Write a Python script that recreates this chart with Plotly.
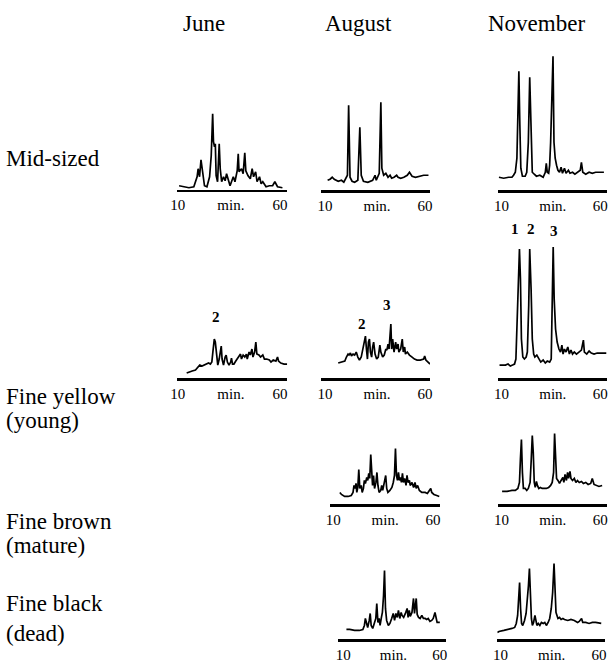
import plotly.graph_objects as go

# ---------------- data ----------------
months = ["June", "August", "November"]
row_labels = [["Mid-sized"], ["Fine yellow", "(young)"], ["Fine brown", "(mature)"], ["Fine black", "(dead)"]]
tick_vals = [10, 36, 60]
tick_text = ["10", "min.", "60"]

# retention time (min) and detector response (arbitrary units)
t_mid_june = [10.7,13.1,15.5,17.9,19.5,20.0,20.7,21.4,22.3,23.1,24.3,25.6,26.4,27.1,27.5,28.0,28.4,28.8,29.5,30.3,30.8,31.5,32.4,33.2,33.9,34.8,35.6,37.2,38.0,39.1,39.6,40.0,41.2,42.0,42.8,43.3,44.4,45.5,46.4,47.1,48.1,48.8,50.0,50.8,51.6,53.2,54.8,56.4,57.5,58.8,61.2]
i_mid_june = [4,3,2,3,13,21,13,30,14,4,3,13,34,76,48,43,46,14,8,46,21,8,13,9,16,9,4,13,8,19,36,18,21,16,37,19,14,11,21,13,18,8,13,6,8,3,4,4,8,3,2]

t_mid_aug = [11.3,12.5,13.6,14.6,16.6,18.2,19.4,20.3,21.2,21.8,22.5,23.5,24.8,26.4,27.4,28.1,29.2,31.4,33.8,35.0,35.6,37.1,37.9,38.4,39.3,40.4,41.5,42.5,43.3,44.5,45.8,46.5,47.8,49.4,51.1,52.2,53.5,55.2,56.8,59.3,61.7]
i_mid_aug = [10,11,13,11,9,10,8,12,15,85,13,9,8,10,63,15,9,8,10,15,10,17,88,22,15,17,13,15,12,13,15,13,12,13,15,18,14,13,14,15,15]

t_mid_nov = [8.7,11.1,13.6,15.3,16.1,17.0,17.8,18.5,18.8,19.3,19.8,20.6,22.0,22.8,23.6,24.3,25.0,25.6,26.6,27.7,29.4,31.1,32.2,32.7,33.2,33.9,34.4,34.9,35.6,36.1,36.6,37.2,37.9,38.6,39.4,40.2,40.9,41.9,42.7,43.9,44.7,46.0,47.2,48.5,49.9,50.5,51.2,52.7,54.4,56.0,57.7,59.4,61.9]
i_mid_nov = [13,12,13,13,15,18,32,82,119,65,22,14,14,18,48,113,48,18,16,14,15,13,18,27,18,17,25,48,98,134,48,32,25,20,18,23,17,22,17,20,17,18,16,18,20,28,18,16,18,17,18,18,18]

t_yel_june = [14.4,15.5,17.1,18.7,19.9,20.8,21.9,23.1,24.3,25.1,26.0,26.7,27.2,27.9,28.4,28.8,29.1,29.6,30.3,30.8,31.3,31.7,32.4,33.2,33.7,34.3,35.1,35.9,36.3,36.8,37.5,38.4,39.1,40.0,40.7,41.2,42.0,42.8,43.6,44.0,44.9,45.5,46.3,46.8,47.6,48.2,48.7,49.7,50.5,51.6,52.4,53.5,54.8,55.6,56.7,58.0,58.8,59.3,60.4,62.0,63.5]
i_yel_june = [5,6,7,8,11,13,12,13,14,15,14,16,26,39,36,28,18,13,19,29,32,19,13,21,23,16,13,16,20,14,14,17,19,21,24,19,23,21,24,19,26,23,29,21,26,36,24,23,21,23,19,19,18,16,18,17,21,17,15,14,14]

t_yel_aug = [16.6,18.2,19.9,20.7,21.5,22.0,22.7,23.2,24.0,24.8,25.6,26.4,27.2,28.1,28.9,29.7,30.2,30.7,31.2,31.7,32.2,32.7,33.3,33.8,34.3,35.0,35.8,36.6,37.4,37.9,38.8,39.6,40.4,40.9,41.5,42.0,42.9,43.3,43.8,44.5,45.3,45.8,46.5,46.9,47.8,48.6,49.1,49.8,50.2,51.1,52.2,53.5,54.7,56.0,57.6,59.3,59.8,60.4,61.4,62.5]
i_yel_aug = [15,16,17,21,24,23,25,22,24,23,26,21,18,21,29,36,42,29,19,36,39,26,21,31,36,24,19,21,33,26,21,23,29,28,34,29,54,29,39,26,36,29,34,26,29,39,26,31,24,26,23,21,19,18,18,19,22,18,16,14]

t_yel_nov = [9.0,10.3,12.0,13.3,14.5,15.6,16.6,17.3,18.0,18.6,19.1,19.6,20.1,20.8,21.6,22.5,23.1,23.8,24.3,25.0,25.6,26.3,26.9,27.9,28.9,29.9,31.1,32.2,33.2,34.4,35.2,35.7,36.2,36.7,37.4,38.2,39.1,39.9,40.6,41.2,41.9,42.7,43.6,44.4,45.2,46.0,46.9,48.0,49.4,50.5,51.5,52.0,53.2,54.4,55.5,56.9,58.5,61.0,63.1]
i_yel_nov = [13,13,13,14,12,13,14,19,56,106,129,99,39,21,19,21,26,73,129,89,39,24,21,23,19,16,18,15,17,16,19,73,131,79,49,36,29,26,33,24,29,26,31,24,28,24,26,24,26,28,38,26,24,27,25,24,25,25,25]

t_brn_aug = [13.3,14.1,15.7,17.4,19.0,19.9,20.4,20.9,21.4,21.8,22.3,22.8,23.3,24.0,24.5,25.1,25.6,26.1,26.8,27.3,27.8,28.3,28.8,29.3,29.7,30.2,30.7,31.4,31.9,32.4,33.0,33.8,34.3,34.8,35.8,36.3,36.8,37.4,38.4,39.4,40.1,40.7,41.2,41.7,42.2,42.7,43.2,43.7,44.2,44.7,45.2,45.8,46.5,47.0,47.5,48.2,48.6,49.5,50.3,51.0,51.6,52.3,53.2,54.4,56.1,57.2,58.2,58.9,59.4,60.5,61.9,63.2]
i_brn_aug = [12,10,8,8,9,12,19,16,21,12,17,35,16,19,12,16,24,21,27,24,31,26,50,26,19,29,16,22,32,19,12,14,19,14,22,29,16,12,14,17,22,29,56,29,24,32,24,27,22,31,22,26,19,29,22,24,19,22,17,22,16,19,14,12,12,11,14,16,12,10,9,8]

t_brn_nov = [10.3,12.8,15.3,17.0,18.3,19.1,19.6,20.1,20.6,21.1,22.0,22.8,23.6,24.5,25.1,25.6,26.1,26.6,27.1,27.7,28.2,28.9,29.7,30.6,31.6,32.7,33.9,34.9,35.7,36.4,36.9,37.4,37.9,38.6,39.4,40.2,41.1,41.6,42.2,42.9,43.5,44.0,44.7,45.2,46.0,46.9,47.7,48.5,49.4,50.5,51.5,52.7,53.9,55.2,56.0,56.9,58.2,59.4,61.0]
i_brn_nov = [13,13,14,14,16,22,46,65,32,16,16,14,16,22,46,69,52,22,17,23,19,16,17,16,16,16,17,19,22,32,71,36,26,24,21,24,27,22,30,24,32,26,33,26,24,26,22,24,22,23,21,22,20,21,26,20,19,18,19]

t_blk_aug = [11.7,13.4,15.9,18.4,20.2,21.0,21.5,22.0,22.7,23.5,24.0,24.5,25.3,26.1,26.9,27.4,28.0,28.6,29.1,29.8,30.3,30.9,31.4,31.9,32.5,33.4,34.2,35.1,35.9,36.6,37.3,38.0,38.6,39.3,40.0,40.5,41.3,42.2,43.1,43.6,44.2,44.7,45.6,46.4,46.9,47.8,48.3,49.0,49.8,50.7,51.5,52.4,53.2,54.0,54.9,55.8,56.6,57.5,58.0,58.6,60.0]
i_blk_aug = [10,10,9,9,10,14,21,16,12,19,26,14,11,16,21,36,17,21,14,22,27,44,69,31,19,14,16,21,26,19,26,22,29,21,27,24,22,26,31,22,29,23,27,41,26,41,25,22,21,24,21,21,20,21,18,19,21,27,22,17,17]

t_blk_nov = [8.4,9.2,11.7,14.2,15.8,17.2,18.0,18.7,19.2,19.7,20.2,20.7,21.3,22.2,23.0,23.7,24.2,24.7,25.2,25.7,26.2,26.8,27.5,28.0,28.5,29.2,30.0,30.8,31.7,32.5,33.3,34.2,35.0,35.8,36.5,37.2,37.7,38.2,38.7,39.2,40.0,40.8,41.7,42.5,44.2,45.8,47.5,49.2,50.0,51.2,51.8,53.3,55.0,56.7,58.3,60.0,61.2]
i_blk_nov = [7,8,9,10,11,12,16,24,41,57,31,16,14,19,26,41,54,71,41,21,14,17,24,19,14,16,14,17,16,17,14,17,21,31,47,76,41,27,24,21,22,20,21,20,19,20,19,17,18,21,17,17,16,17,17,16,16]

# peak identifiers: (panel index, label, time, response)
peak_labels = [(3, "2", 28.8, 61), (4, "2", 28.6, 54), (4, "3", 41.2, 73),
               (5, "1", 16.6, 149), (5, "2", 25.0, 149), (5, "3", 36.6, 147)]

# ---------------- layout (pixel geometry of each panel) ----------------
W, H = 613, 665
PH = 160  # panel height in px (1 response unit = 1 px)
# (t, i, line_left, line_right, line_y, px_of_10, px_of_60)
panels = [
    (t_mid_june, i_mid_june, 173.0, 285.0, 191.0, 173.5, 277.5),
    (t_mid_aug, i_mid_aug, 319.3, 430.0, 191.5, 323.3, 425.0),
    (t_mid_nov, i_mid_nov, 499.3, 610.0, 191.5, 502.7, 603.0),
    (t_yel_june, i_yel_june, 172.7, 285.0, 379.3, 173.5, 277.5),
    (t_yel_aug, i_yel_aug, 319.3, 430.0, 379.3, 323.3, 425.0),
    (t_yel_nov, i_yel_nov, 499.3, 610.0, 379.3, 502.7, 603.0),
    (t_brn_aug, i_brn_aug, 328.3, 440.0, 505.7, 331.7, 433.0),
    (t_brn_nov, i_brn_nov, 499.3, 610.0, 505.7, 502.7, 603.0),
    (t_blk_aug, i_blk_aug, 336.7, 446.7, 640.7, 341.7, 440.0),
    (t_blk_nov, i_blk_nov, 498.3, 608.3, 640.7, 501.7, 601.7),
]

SERIF = "Liberation Serif"
fig = go.Figure()
LW = 2.5
for n, (t, inten, left, right, ly, p10, p60) in enumerate(panels, start=1):
    xa = "x" if n == 1 else f"x{n}"
    ya = "y" if n == 1 else f"y{n}"
    k = (p60 - p10) / 50.0
    x0 = 10 + (left - p10) / k
    x1 = 10 + (right - p10) / k
    fig.add_trace(go.Scatter(x=t, y=inten, xaxis=xa, yaxis=ya, mode="lines",
                             line=dict(color="black", width=1.7),
                             hoverinfo="skip", showlegend=False))
    ybot = 1 - (ly - LW / 2) / H
    fig.layout["xaxis" if n == 1 else f"xaxis{n}"] = dict(
        domain=[left / W, right / W], range=[x0, x1], anchor=ya,
        showline=True, linecolor="black", linewidth=LW, mirror=False,
        showgrid=False, zeroline=False, ticks="",
        tickmode="array", tickvals=tick_vals, ticktext=tick_text,
        tickfont=dict(family=SERIF, size=15, color="black"), fixedrange=True)
    fig.layout["yaxis" if n == 1 else f"yaxis{n}"] = dict(
        domain=[ybot, ybot + PH / H], range=[0, PH], anchor=xa,
        visible=False, fixedrange=True)

annotations = []
header_x = [200, 357, 538]
for m, hx in zip(months, header_x):
    annotations.append(dict(text=m, x=hx / W, y=1 - 24 / H, xref="paper", yref="paper",
                            showarrow=False, xanchor="center", yanchor="middle",
                            font=dict(family=SERIF, size=23, color="black")))
row_y = [[158], [396, 420], [521, 545], [603, 633]]
for lines, ys in zip(row_labels, row_y):
    for txt, yy in zip(lines, ys):
        annotations.append(dict(text=txt, x=-3 / W, y=1 - yy / H, xref="paper", yref="paper",
                                showarrow=False, xanchor="left", yanchor="middle",
                                font=dict(family=SERIF, size=23, color="black")))
for idx, lab, tt, rr in peak_labels:
    n = idx + 1
    annotations.append(dict(text="<b>%s</b>" % lab, x=tt, y=rr,
                            xref="x" if n == 1 else f"x{n}", yref="y" if n == 1 else f"y{n}",
                            showarrow=False, xanchor="center", yanchor="middle",
                            font=dict(family=SERIF, size=15, color="black")))

fig.update_layout(width=W, height=H, margin=dict(l=0, r=0, t=0, b=0),
                  paper_bgcolor="white", plot_bgcolor="rgba(0,0,0,0)",
                  annotations=annotations, showlegend=False)
fig.write_html("out.html", config={"displayModeBar": False, "staticPlot": True},
               post_script="document.body.style.margin='0px';")
